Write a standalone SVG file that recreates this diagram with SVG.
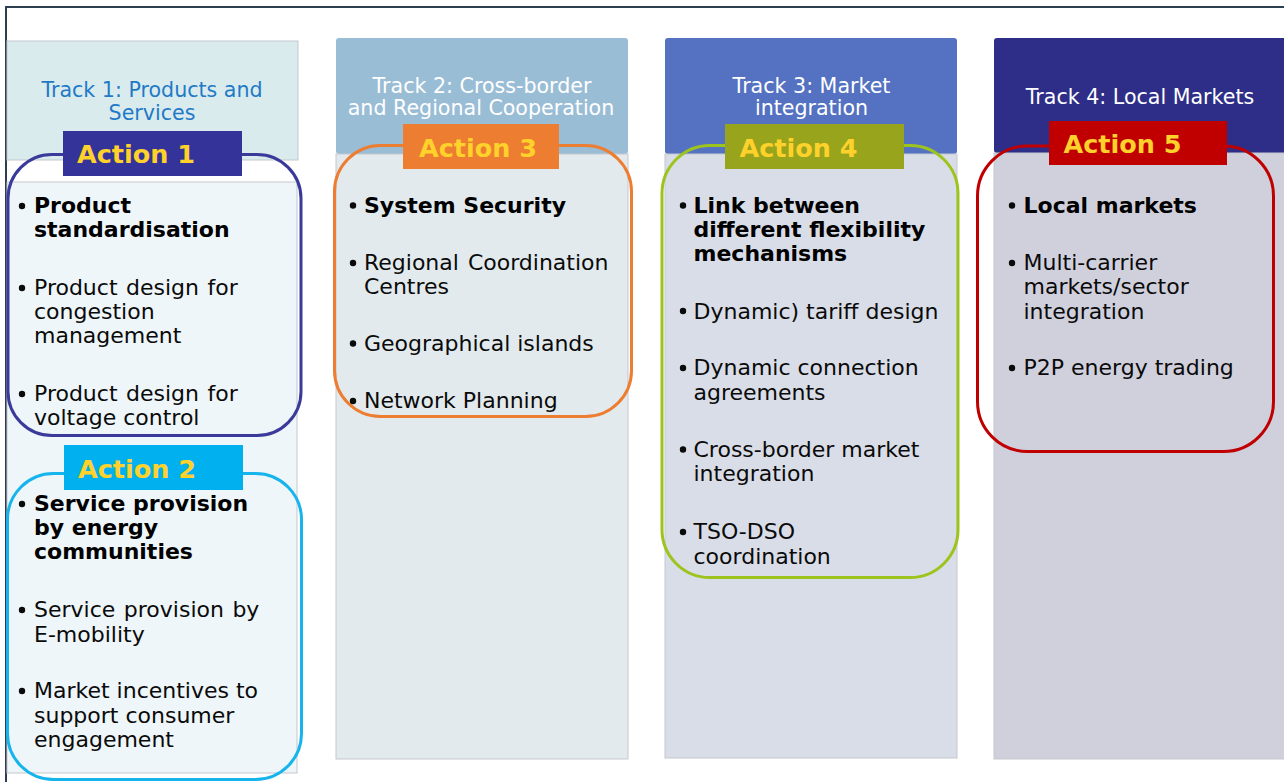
<svg xmlns="http://www.w3.org/2000/svg" width="1284" height="782" viewBox="0 0 1284 782">
<style>
.title{font-family:"DejaVu Sans",Verdana,sans-serif;font-size:20.6px;text-anchor:middle;fill:#ffffff}
.t1{fill:#1f7ac6}
.item{font-family:"DejaVu Sans",Verdana,sans-serif;font-size:22px;fill:#0a0a0a}
.bold{font-weight:bold;fill:#000}
.act{font-family:"DejaVu Sans",Verdana,sans-serif;font-size:25.5px;font-weight:bold;fill:#ffd12b}
.ring{fill:none;stroke-width:3}
.col{stroke:#c3c7cd;stroke-width:1}
</style>
<rect width="1284" height="782" fill="#ffffff"/>
<path d="M6,782 V7 H1284" fill="none" stroke="#2c3e50" stroke-width="2"/>

<g id="track1">
<rect x="7" y="41" width="291" height="119" fill="#daebee" class="col"/>
<rect x="7" y="182" width="290" height="591" fill="#eef6f9" class="col"/>
<text class="title t1" x="152" y="97">Track 1: Products and</text>
<text class="title t1" x="152" y="119.5">Services</text>
</g>
<g id="track2">
<rect x="336" y="38" width="292" height="116" rx="3" fill="#9abdd6"/>
<rect x="336" y="154" width="292" height="605" fill="#e2eaee" class="col"/>
<text class="title" x="482" y="93">Track 2: Cross-border</text>
<text class="title" x="481" y="115">and Regional Cooperation</text>
</g>
<g id="track3">
<rect x="665" y="38" width="292" height="116" rx="3" fill="#5472c1"/>
<rect x="665" y="154" width="292" height="604" fill="#d9dde7" class="col"/>
<text class="title" x="811.5" y="93">Track 3: Market</text>
<text class="title" x="811.5" y="115">integration</text>
</g>
<g id="track4">
<rect x="994" y="38" width="300" height="115" rx="3" fill="#2e2e88"/>
<rect x="994" y="153" width="300" height="606" fill="#d0d0dd" class="col"/>
<text class="title" x="1140" y="104">Track 4: Local Markets</text>
</g>

<g id="action1">
<rect class="ring" x="8" y="154.5" width="293" height="281" rx="44" stroke="#3a3a9b"/>
<rect x="63" y="131" width="179" height="45" fill="#343399"/>
<text class="act" x="77" y="163">Action 1</text>
<g class="item">
<circle cx="22" cy="206" r="3.2"/>
<text class="bold" x="34" y="213">Product</text>
<text class="bold" x="34" y="237">standardisation</text>
<circle cx="22" cy="288" r="3.2"/>
<text x="34" y="295" word-spacing="1.5">Product design for</text>
<text x="34" y="319">congestion</text>
<text x="34" y="343">management</text>
<circle cx="22" cy="394" r="3.2"/>
<text x="34" y="401" word-spacing="1.5">Product design for</text>
<text x="34" y="425">voltage control</text>
</g>
</g>

<g id="action2">
<rect class="ring" x="7.5" y="473.5" width="294" height="306" rx="46" stroke="#16b4ec"/>
<rect x="64" y="445" width="179" height="45" fill="#00b0ef"/>
<text class="act" x="78" y="477.5">Action 2</text>
<g class="item">
<circle cx="22" cy="504" r="3.2"/>
<text class="bold" x="34" y="511">Service provision</text>
<text class="bold" x="34" y="535">by energy</text>
<text class="bold" x="34" y="559">communities</text>
<circle cx="22" cy="610" r="3.2"/>
<text x="34" y="617" word-spacing="1.5">Service provision by</text>
<text x="34" y="641.5">E-mobility</text>
<circle cx="22" cy="691" r="3.2"/>
<text x="34" y="698">Market incentives to</text>
<text x="34" y="722.5">support consumer</text>
<text x="34" y="746.5">engagement</text>
</g>
</g>

<g id="action3">
<rect class="ring" x="334.5" y="145.5" width="297" height="271" rx="46" stroke="#ed7d31"/>
<rect x="403" y="124" width="156" height="45" fill="#ed7d31"/>
<text class="act" x="419" y="156.5">Action 3</text>
<g class="item">
<circle cx="353" cy="205.5" r="3.2"/>
<text class="bold" x="364" y="212.5">System Security</text>
<circle cx="353" cy="263" r="3.2"/>
<text x="364" y="270" word-spacing="2">Regional Coordination</text>
<text x="364" y="294">Centres</text>
<circle cx="353" cy="343.5" r="3.2"/>
<text x="364" y="350.5">Geographical islands</text>
<circle cx="353" cy="401" r="3.2"/>
<text x="364" y="408">Network Planning</text>
</g>
</g>

<g id="action4">
<rect class="ring" x="662" y="145.5" width="296" height="432" rx="48" stroke="#9dc41d" stroke-width="3.5"/>
<rect x="725" y="124" width="179" height="45" fill="#98a41c"/>
<text class="act" x="739.5" y="157">Action 4</text>
<g class="item">
<circle cx="683" cy="205.5" r="3.2"/>
<text class="bold" x="693.5" y="212.5">Link between</text>
<text class="bold" x="693.5" y="236.5">different flexibility</text>
<text class="bold" x="693.5" y="261">mechanisms</text>
<circle cx="683" cy="311" r="3.2"/>
<text x="693.5" y="318.5">Dynamic) tariff design</text>
<circle cx="683" cy="368" r="3.2"/>
<text x="693.5" y="375">Dynamic connection</text>
<text x="693.5" y="399.5">agreements</text>
<circle cx="683" cy="449.5" r="3.2"/>
<text x="693.5" y="456.5">Cross-border market</text>
<text x="693.5" y="481">integration</text>
<circle cx="683" cy="532" r="3.2"/>
<text x="693.5" y="539">TSO-DSO</text>
<text x="693.5" y="563.5">coordination</text>
</g>
</g>

<g id="action5">
<rect class="ring" x="977.5" y="146" width="296" height="305.5" rx="50" stroke="#c00000"/>
<rect x="1049" y="121" width="178" height="44" fill="#c00000"/>
<text class="act" x="1063.5" y="153">Action 5</text>
<g class="item">
<circle cx="1012" cy="205.5" r="3.2"/>
<text class="bold" x="1023.5" y="212.5">Local markets</text>
<circle cx="1012" cy="263" r="3.2"/>
<text x="1023.5" y="270">Multi-carrier</text>
<text x="1023.5" y="294">markets/sector</text>
<text x="1023.5" y="318.5">integration</text>
<circle cx="1012" cy="368" r="3.2"/>
<text x="1023.5" y="375">P2P energy trading</text>
</g>
</g>
<g id="connectors"/>
</svg>
